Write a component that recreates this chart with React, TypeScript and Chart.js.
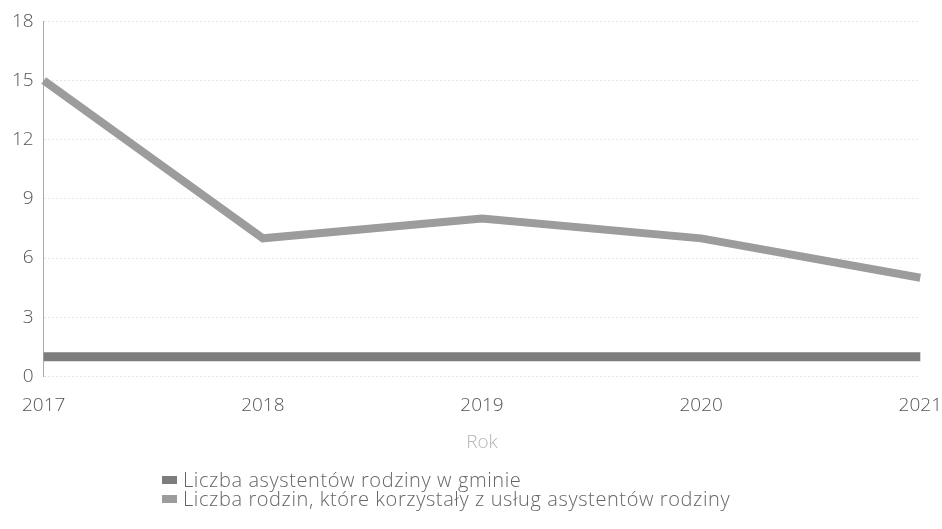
import React, { useEffect, useRef } from "react";
import { Chart, registerables } from "chart.js";

Chart.register(...registerables);

const years = ["2017", "2018", "2019", "2020", "2021"];
const assistants = [1, 1, 1, 1, 1];
const families = [15, 7, 8, 7, 5];
const yTicks = [0, 3, 6, 9, 12, 15, 18];
const seriesNames = [
  "Liczba asystentów rodziny w gminie",
  "Liczba rodzin, które korzystały z usług asystentów rodziny",
];
const seriesColors = ["#7d7d7d", "#9c9c9c"];
const axisTitle = "Rok";

const FONT = "'Open Sans', Roboto, sans-serif";

export default function App() {
  const ref = useRef<HTMLCanvasElement | null>(null);
  useEffect(() => {
    document.body.style.margin = "0";
    const ctx = ref.current!;
    const chart = new Chart(ctx, {
      type: "line",
      data: {
        labels: years,
        datasets: [
          {
            label: seriesNames[0],
            data: assistants,
            borderColor: seriesColors[0],
            backgroundColor: seriesColors[0],
            borderWidth: 9,
            pointRadius: 0,
            tension: 0,
          },
          {
            label: seriesNames[1],
            data: families,
            borderColor: seriesColors[1],
            backgroundColor: seriesColors[1],
            borderWidth: 8,
            pointRadius: 0,
            tension: 0,
          },
        ],
      },
      options: {
        animation: false,
        responsive: false,
        layout: { padding: { top: 14, left: 2, right: 0, bottom: 75 } },
        plugins: { legend: { display: false }, tooltip: { enabled: false } },
        scales: {
          x: {
            offset: false,
            grid: { display: false },
            border: { display: false },
            ticks: {
              color: "#555",
              font: { family: FONT, size: 19, weight: 300 },
              padding: 10,
              maxRotation: 0,
            },
            title: {
              display: true,
              text: axisTitle,
              color: "#b5b5b5",
              font: { family: FONT, size: 19, weight: 300 },
              padding: { top: 4, bottom: 0 },
            },
          },
          y: {
            min: 0,
            max: 18,
            afterBuildTicks: (s: any) => {
              s.ticks = yTicks.map((v) => ({ value: v }));
            },
            grid: {
              color: "#e6e6e6",
              lineWidth: 1,
              drawTicks: false,
            },
            border: { display: true, color: "#aaa", dash: [2, 2] },
            ticks: {
              color: "#555",
              font: { family: FONT, size: 19, weight: 300 },
              padding: 10,
            },
          },
        },
      },
    });
    return () => chart.destroy();
  }, []);
  return (
    <div
      style={{
        position: "relative",
        width: 942,
        height: 529,
        overflow: "hidden",
        fontFamily: FONT,
        fontWeight: 300,
      }}
    >
      <canvas ref={ref} width={952} height={529} style={{ display: "block" }} />
      <div
        style={{
          position: "absolute",
          left: 162,
          top: 470,
          fontSize: 20,
          letterSpacing: "0.6px",
          color: "#666",
          lineHeight: "19px",
        }}
      >
        {seriesNames.map((n, i) => (
          <div key={n} style={{ display: "flex", alignItems: "center", whiteSpace: "nowrap" }}>
            <span
              style={{
                display: "inline-block",
                width: 15,
                height: 8,
                background: seriesColors[i],
                marginRight: 6,
              }}
            />
            {n}
          </div>
        ))}
      </div>
    </div>
  );
}
